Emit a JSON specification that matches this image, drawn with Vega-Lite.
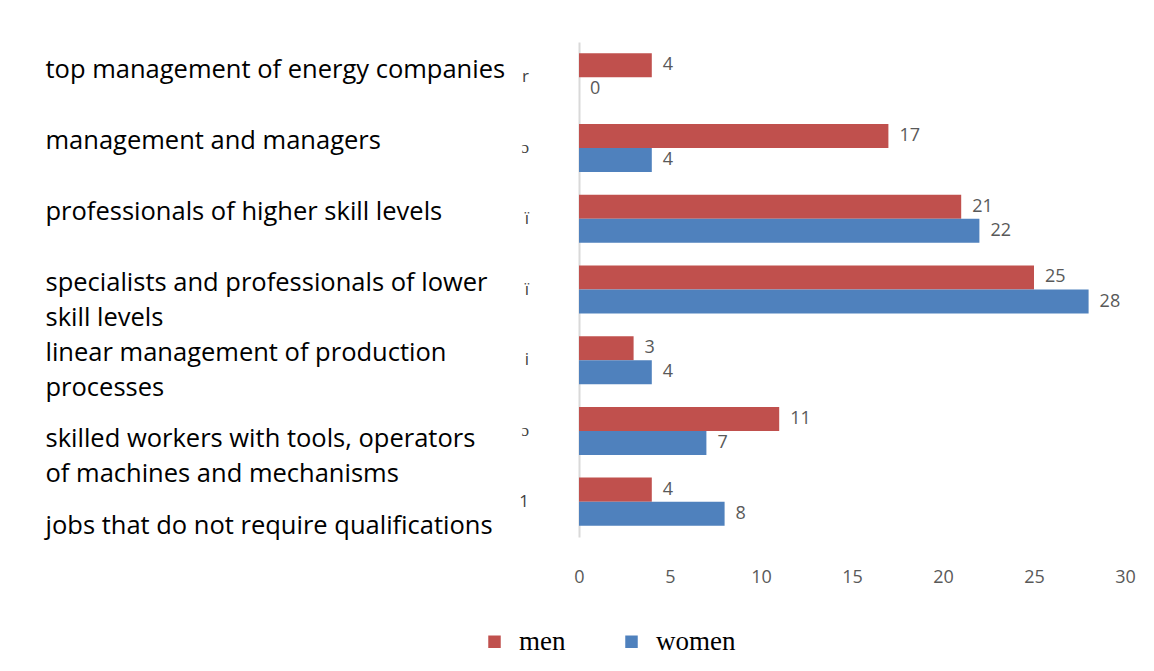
{
  "$schema": "https://vega.github.io/schema/vega-lite/v6.json",
  "width": 546,
  "height": 495,
  "autosize": "none",
  "padding": {"left": 579, "top": 42, "right": 29, "bottom": 134},
  "background": "white",
  "config": {"view": {"stroke": null}},
  "datasets": {
    "bars": [
      {"category": "top management of energy companies", "sex": "men", "value": 4},
      {"category": "top management of energy companies", "sex": "women", "value": 0},
      {"category": "management and managers", "sex": "men", "value": 17},
      {"category": "management and managers", "sex": "women", "value": 4},
      {"category": "professionals of higher skill levels", "sex": "men", "value": 21},
      {"category": "professionals of higher skill levels", "sex": "women", "value": 22},
      {"category": "specialists and professionals of lower skill levels", "sex": "men", "value": 25},
      {"category": "specialists and professionals of lower skill levels", "sex": "women", "value": 28},
      {"category": "linear management of production processes", "sex": "men", "value": 3},
      {"category": "linear management of production processes", "sex": "women", "value": 4},
      {"category": "skilled workers with tools, operators of machines and mechanisms", "sex": "men", "value": 11},
      {"category": "skilled workers with tools, operators of machines and mechanisms", "sex": "women", "value": 7},
      {"category": "jobs that do not require qualifications", "sex": "men", "value": 4},
      {"category": "jobs that do not require qualifications", "sex": "women", "value": 8}
    ],
    "glyphs": [
      {"category": "top management of energy companies", "glyph": "r"},
      {"category": "management and managers", "glyph": "ɔ"},
      {"category": "professionals of higher skill levels", "glyph": "ï"},
      {"category": "specialists and professionals of lower skill levels", "glyph": "ï"},
      {"category": "linear management of production processes", "glyph": "i"},
      {"category": "skilled workers with tools, operators of machines and mechanisms", "glyph": "ɔ"},
      {"category": "jobs that do not require qualifications", "glyph": "1"}
    ]
  },
  "layer": [
    {
      "data": {"name": "bars"},
      "mark": {"type": "bar"},
      "encoding": {
        "y": {
          "field": "category", "type": "nominal", "sort": null,
          "scale": {"paddingInner": 0.32, "paddingOuter": 0.16},
          "axis": {
            "title": null, "ticks": false,
            "domainColor": "#d9d9d9", "domainWidth": 2,
            "labelAlign": "left", "labelBaseline": "middle",
            "labelPadding": 534, "labelLimit": 600,
            "labelFont": "Open Sans", "labelFontSize": 25.5, "labelColor": "#000000",
            "labelLineHeight": 35,
            "labelOffset": {"condition": [{"test": "datum.index > 0.9", "value": 24}, {"test": "datum.index > 0.75", "value": 8}], "value": -7},
            "labelExpr": "datum.label == 'specialists and professionals of lower skill levels' ? ['specialists and professionals of lower', 'skill levels'] : datum.label == 'linear management of production processes' ? ['linear management of production', 'processes'] : datum.label == 'skilled workers with tools, operators of machines and mechanisms' ? ['skilled workers with tools, operators', 'of machines and mechanisms'] : datum.label"
          }
        },
        "yOffset": {"field": "sex", "type": "nominal", "sort": ["men", "women"], "scale": {"paddingInner": 0, "paddingOuter": 0}},
        "x": {
          "field": "value", "type": "quantitative",
          "scale": {"domain": [0, 30]},
          "axis": {
            "title": null, "values": [0, 5, 10, 15, 20, 25, 30],
            "grid": false, "ticks": false, "domain": false, "labelFlush": false,
            "labelPadding": 31, "labelFont": "Open Sans", "labelFontSize": 18, "labelColor": "#595959"
          }
        },
        "color": {
          "field": "sex", "type": "nominal",
          "scale": {"domain": ["men", "women"], "range": ["#C0504D", "#4F81BD"]},
          "legend": {
            "title": null, "orient": "none", "direction": "horizontal",
            "legendX": -98, "legendY": 586,
            "symbolType": "square", "symbolSize": 156, "symbolStrokeWidth": 0,
            "labelFont": "Liberation Serif", "labelFontSize": 27, "labelColor": "#000000",
            "labelOffset": 11, "columnPadding": 52
          }
        }
      }
    },
    {
      "data": {"name": "bars"},
      "mark": {"type": "text", "align": "left", "baseline": "middle", "dx": 11, "font": "Open Sans", "fontSize": 18, "color": "#595959"},
      "encoding": {
        "y": {"field": "category", "type": "nominal", "sort": null},
        "yOffset": {"field": "sex", "type": "nominal", "sort": ["men", "women"]},
        "x": {"field": "value", "type": "quantitative"},
        "text": {"field": "value", "type": "quantitative"}
      }
    },
    {
      "data": {"name": "glyphs"},
      "mark": {"type": "text", "align": "right", "baseline": "middle", "dx": -50, "font": "Open Sans", "fontSize": 17, "color": "#404040"},
      "encoding": {
        "y": {"field": "category", "type": "nominal", "sort": null},
        "x": {"datum": 0, "type": "quantitative"},
        "text": {"field": "glyph", "type": "nominal"}
      }
    }
  ]
}
